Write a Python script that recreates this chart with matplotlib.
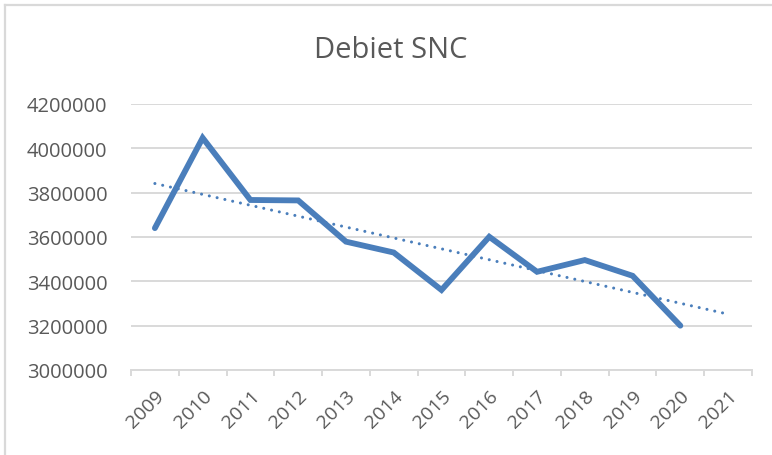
import numpy as np
import matplotlib
matplotlib.use("Agg")
import matplotlib.pyplot as plt
from matplotlib.lines import Line2D

# Debiet SNC per jaar
years = ['2009', '2010', '2011', '2012', '2013', '2014', '2015',
         '2016', '2017', '2018', '2019', '2020', '2021']
debiet = [3640000, 4047000, 3767000, 3765000, 3579000, 3530000,
          3361000, 3601000, 3443000, 3496000, 3425000, 3200000]
y_ticks = [3000000, 3200000, 3400000, 3600000, 3800000, 4000000, 4200000]

blue = '#4a7ebb'
grid = '#d9d9d9'
txt = '#595959'

plt.rcParams['font.family'] = ['Open Sans', 'DejaVu Sans']

fig = plt.figure(figsize=(7.72, 4.56), dpi=100)
ax = fig.add_axes([131 / 772, 1 - 371 / 456, (752 - 131) / 772, (371 - 105) / 456])

x = np.arange(len(debiet))
ax.plot(x, debiet, color=blue, lw=4.2, solid_joinstyle='miter', solid_capstyle='round', zorder=3)

# linear trendline, one period forward
k, b = np.polyfit(x, debiet, 1)
xt = np.arange(len(years))
ax.plot(xt, k * xt + b, color=blue, lw=2.2, linestyle=(0, (0.01, 2.6)),
        dash_capstyle='round', zorder=4)

ax.set_xlim(-0.5, len(years) - 0.5)
ax.set_ylim(3000000, 4200000)
ax.set_yticks(y_ticks)
ax.set_yticklabels([str(v) for v in y_ticks])
ax.set_xticks(xt)
ax.set_xticklabels(years, rotation=45, ha='right', rotation_mode='anchor')
ax.set_xticks(np.arange(-0.5, len(years)), minor=True)

ax.grid(axis='y', color=grid, lw=1.4, zorder=0)
for s in ['top', 'right', 'left']:
    ax.spines[s].set_visible(False)
ax.spines['bottom'].set_color(grid)
ax.spines['bottom'].set_linewidth(1.4)

ax.tick_params(axis='y', length=0, pad=17, labelsize=14.5, labelcolor=txt)
ax.tick_params(axis='x', which='major', length=0, pad=12, labelsize=14, labelcolor=txt)
ax.tick_params(axis='x', which='minor', length=4.5, width=1.4, color=grid)

fig.text(391 / 772, 1 - 50 / 456, 'Debiet SNC', ha='center', va='center',
         fontsize=21, color=txt)

# chart area border (top and left edge visible in the crop)
fig.add_artist(Line2D([5 / 772, 1], [1 - 6 / 456] * 2, color=grid, lw=1.6))
fig.add_artist(Line2D([5 / 772] * 2, [0, 1 - 6 / 456], color=grid, lw=1.6))

fig.savefig('out.png', dpi=100, facecolor='white')
